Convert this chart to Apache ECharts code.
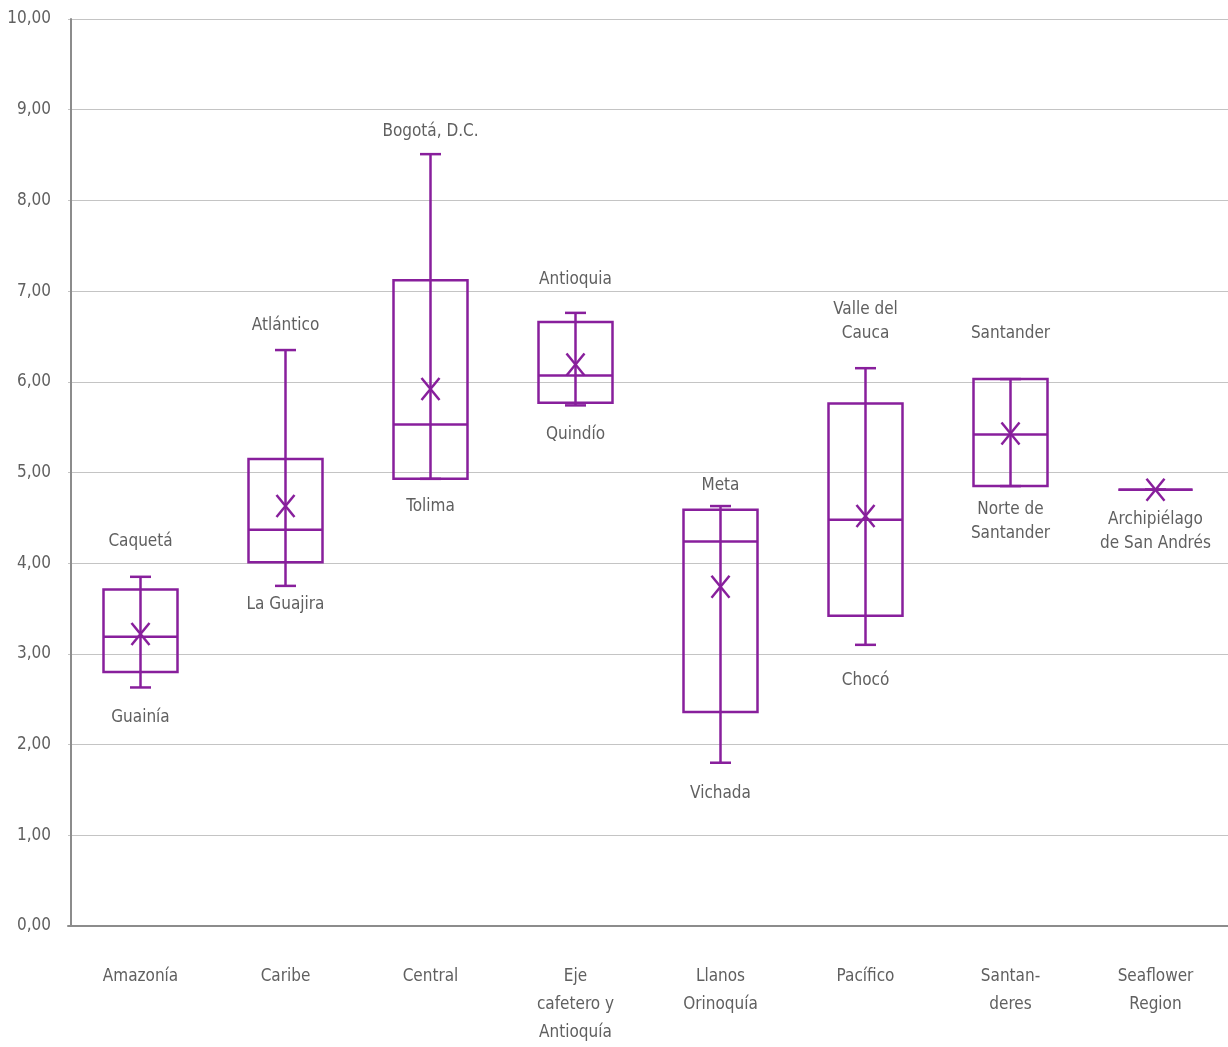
<!DOCTYPE html>
<html><head><meta charset="utf-8">
<script src="https://cdn.jsdelivr.net/npm/echarts@6/dist/echarts.min.js"></script>
<style>html,body{margin:0;padding:0;background:#fff}#c{width:1228px;height:1047px}</style>
</head><body><div id="c"></div>
<script>
const categories = ['Amazonía','Caribe','Central','Eje\ncafetero y\nAntioquía','Llanos\nOrinoquía','Pacífico','Santan-\nderes','Seaflower\nRegion'];
const minVals    = [2.63, 3.75, 4.93, 5.74, 1.80, 3.10, 4.85, 4.81];
const q1Vals     = [2.80, 4.01, 4.93, 5.77, 2.36, 3.42, 4.85, 4.81];
const medianVals = [3.19, 4.37, 5.53, 6.07, 4.24, 4.48, 5.42, 4.81];
const q3Vals     = [3.71, 5.15, 7.12, 6.66, 4.59, 5.76, 6.03, 4.81];
const maxVals    = [3.85, 6.35, 8.51, 6.76, 4.63, 6.15, 6.03, 4.81];
const meanVals   = [3.22, 4.63, 5.92, 6.19, 3.74, 4.52, 5.43, 4.81];
const topLabels     = ['Caquetá','Atlántico','Bogotá, D.C.','Antioquia','Meta','Valle del\nCauca','Santander',''];
const topLabelVals  = [4.24, 6.62, 8.76, 7.13, 4.86, 6.66, 6.53, 0];
const bottomLabels    = ['Guainía','La Guajira','Tolima','Quindío','Vichada','Chocó','Norte de\nSantander','Archipiélago\nde San Andrés'];
const bottomLabelVals = [2.30, 3.54, 4.62, 5.42, 1.46, 2.71, 4.46, 4.35];
const yTicks = [0,1,2,3,4,5,6,7,8,9,10];

const PURPLE = '#881f9c';
const FONT = '"Liberation Sans Narrow","DejaVu Sans Condensed","Roboto",sans-serif';
const TXT = '#606060';

const boxData = categories.map((c,i)=>[i,minVals[i],q1Vals[i],medianVals[i],q3Vals[i],maxVals[i],meanVals[i]]);
const labelData = [];
categories.forEach((c,i)=>{
  if (topLabels[i]) labelData.push({value:[i, topLabelVals[i]], name: topLabels[i]});
  if (bottomLabels[i]) labelData.push({value:[i, bottomLabelVals[i]], name: bottomLabels[i]});
});

const chart = echarts.init(document.getElementById('c'));
chart.setOption({
  animation:false,
  grid:{left:68,right:-6,top:19,bottom:118},
  xAxis:{type:'category',data:categories,
    axisLine:{lineStyle:{color:'#8c8c8c',width:2}},
    axisTick:{show:false},
    axisLabel:{color:TXT,fontFamily:FONT,fontSize:17,lineHeight:28,margin:37,interval:0}},
  yAxis:{type:'value',min:0,max:10,interval:1,offset:-3,
    axisLine:{show:true,lineStyle:{color:'#8c8c8c',width:2}},
    axisTick:{show:false},
    splitLine:{lineStyle:{color:'#c4c4c4',width:1}},
    axisLabel:{color:TXT,fontFamily:FONT,fontSize:17,margin:20,
      formatter:v=>yTicks.includes(v)?v.toFixed(2).replace('.',','):''}},
  series:[{
    type:'custom',
    data:boxData,
    encode:{x:0,y:[1,2,3,4,5,6]},
    renderItem:function(params,api){
      const i=api.value(0);
      const p=k=>api.coord([i,api.value(k)]);
      const pmin=p(1),pq1=p(2),pmed=p(3),pq3=p(4),pmax=p(5),pmean=p(6);
      const x=pmin[0], hw=37, cw=10.5;
      const st={stroke:PURPLE,lineWidth:2.5,fill:null};
      const ch=[];
      ch.push({type:'line',shape:{x1:x,y1:pmax[1],x2:x,y2:pmin[1]},style:st});
      ch.push({type:'line',shape:{x1:x-cw,y1:pmax[1],x2:x+cw,y2:pmax[1]},style:st});
      ch.push({type:'line',shape:{x1:x-cw,y1:pmin[1],x2:x+cw,y2:pmin[1]},style:st});
      ch.push({type:'rect',shape:{x:x-hw,y:pq3[1],width:2*hw,height:pq1[1]-pq3[1]},style:st});
      ch.push({type:'line',shape:{x1:x-hw,y1:pmed[1],x2:x+hw,y2:pmed[1]},style:st});
      const mx=9,my=11;
      ch.push({type:'line',shape:{x1:x-mx,y1:pmean[1]-my,x2:x+mx,y2:pmean[1]+my},style:st});
      ch.push({type:'line',shape:{x1:x-mx,y1:pmean[1]+my,x2:x+mx,y2:pmean[1]-my},style:st});
      return {type:'group',children:ch};
    }
  },{
    type:'scatter',
    data:labelData,
    symbolSize:0,
    itemStyle:{opacity:1},
    label:{show:true,position:'inside',formatter:p=>p.name,color:TXT,fontFamily:FONT,fontSize:17,lineHeight:24,align:'center',verticalAlign:'middle'}
  }]
});
</script></body></html>
